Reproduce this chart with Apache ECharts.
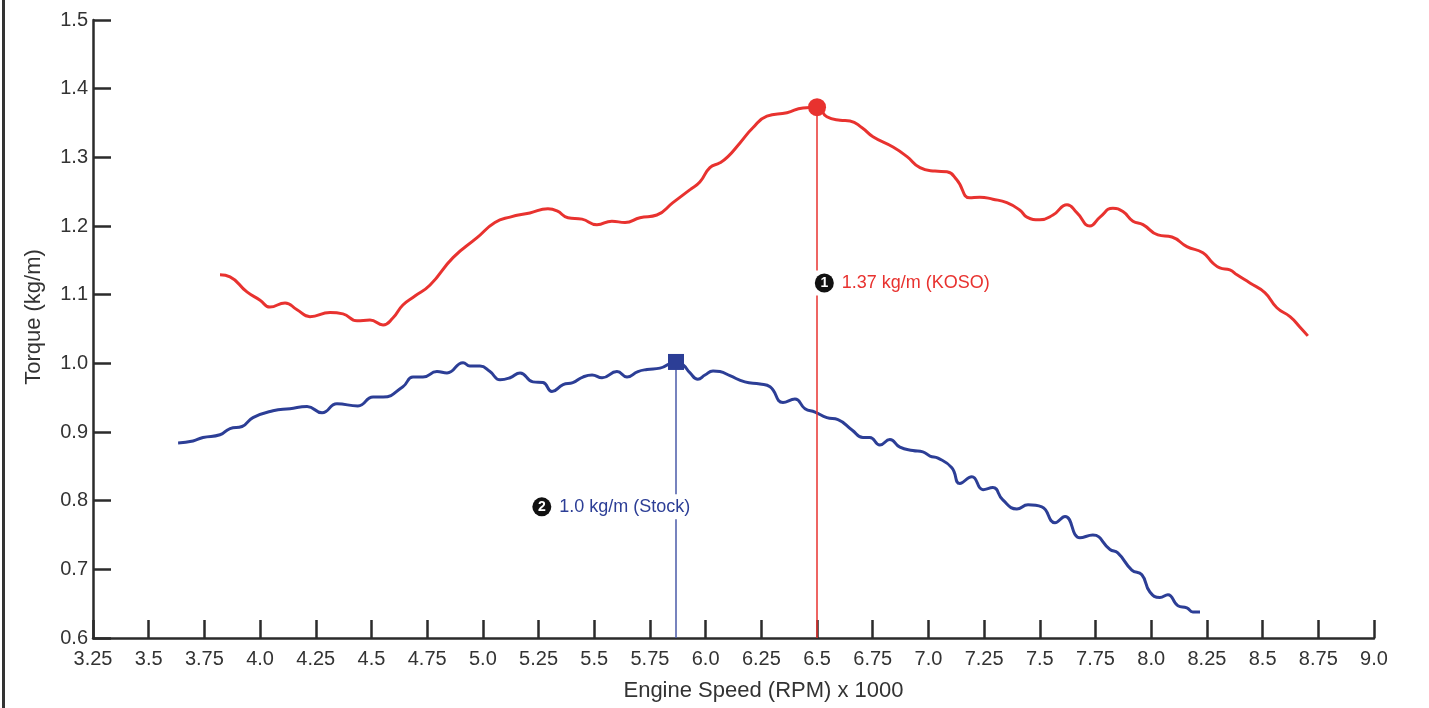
<!DOCTYPE html>
<html>
<head>
<meta charset="utf-8">
<script src="https://cdn.jsdelivr.net/npm/echarts@6/dist/echarts.min.js"></script>
<style>
html,body{margin:0;padding:0;background:#fff;}
#chart{width:1429px;height:708px;}
</style>
</head>
<body>
<div id="chart"></div>
<script>
// KOSO curve: [rpm x1000, torque kg/m]
const kosoRpm = [3.820,3.865,3.941,4.000,4.044,4.112,4.166,4.224,4.314,4.372,4.435,4.493,4.552,4.596,4.641,4.695,4.763,4.866,4.974,5.054,5.122,5.211,5.292,5.333,5.382,5.445,5.512,5.579,5.638,5.705,5.781,5.853,5.930,5.974,6.019,6.064,6.100,6.154,6.212,6.275,6.365,6.437,6.500,6.544,6.603,6.648,6.702,6.751,6.841,6.904,6.962,7.029,7.083,7.128,7.186,7.231,7.289,7.352,7.411,7.442,7.500,7.559,7.622,7.667,7.725,7.770,7.828,7.873,7.918,7.963,8.030,8.093,8.160,8.232,8.277,8.308,8.353,8.385,8.443,8.510,8.564,8.623,8.667,8.703];
const kosoTorque = [1.129,1.126,1.104,1.092,1.082,1.088,1.078,1.068,1.074,1.072,1.062,1.063,1.056,1.066,1.085,1.098,1.114,1.154,1.183,1.205,1.213,1.219,1.225,1.222,1.212,1.210,1.202,1.207,1.205,1.212,1.216,1.234,1.253,1.264,1.285,1.292,1.301,1.321,1.343,1.360,1.365,1.372,1.373,1.359,1.354,1.353,1.343,1.330,1.315,1.301,1.285,1.280,1.279,1.267,1.241,1.242,1.239,1.234,1.223,1.213,1.209,1.216,1.231,1.219,1.200,1.213,1.226,1.221,1.207,1.202,1.187,1.184,1.170,1.161,1.146,1.139,1.136,1.129,1.117,1.103,1.081,1.068,1.053,1.040];

// Stock curve
const stockRpm = [3.632,3.699,3.744,3.820,3.865,3.919,3.968,4.058,4.134,4.211,4.278,4.345,4.439,4.507,4.552,4.641,4.686,4.731,4.794,4.839,4.911,4.942,4.987,5.032,5.077,5.122,5.167,5.225,5.270,5.310,5.360,5.404,5.449,5.490,5.535,5.602,5.647,5.696,5.737,5.795,5.867,5.898,5.930,5.965,5.997,6.033,6.064,6.109,6.176,6.244,6.289,6.347,6.401,6.446,6.491,6.544,6.594,6.657,6.706,6.737,6.782,6.827,6.872,6.930,6.975,7.007,7.043,7.105,7.141,7.195,7.245,7.289,7.334,7.397,7.447,7.509,7.568,7.613,7.680,7.738,7.815,7.850,7.913,7.958,7.994,8.039,8.075,8.120,8.160,8.187,8.219];
const stockTorque = [0.884,0.887,0.892,0.896,0.905,0.908,0.921,0.931,0.934,0.937,0.928,0.941,0.938,0.951,0.951,0.966,0.980,0.980,0.988,0.986,1.001,0.996,0.996,0.988,0.976,0.979,0.986,0.973,0.972,0.959,0.969,0.972,0.980,0.983,0.979,0.988,0.980,0.988,0.991,0.993,1.002,0.998,0.986,0.977,0.983,0.989,0.988,0.982,0.973,0.970,0.966,0.943,0.948,0.934,0.929,0.921,0.918,0.903,0.892,0.892,0.881,0.889,0.878,0.873,0.871,0.865,0.862,0.848,0.825,0.835,0.816,0.819,0.801,0.788,0.794,0.791,0.768,0.777,0.746,0.750,0.729,0.724,0.699,0.692,0.667,0.659,0.663,0.647,0.644,0.638,0.638];

// Peaks and annotation texts
const kosoPeak = [6.5, 1.373];
const stockPeak = [5.867, 1.002];
const kosoLabel = "1.37 kg/m (KOSO)";
const stockLabel = "1.0 kg/m (Stock)";
const kosoLabelPos = [6.49, 1.117];
const stockLabelPos = [5.222, 0.791];

// Axes
const xMin = 3.25, xMax = 9.0, xStep = 0.25;
const yMin = 0.6, yMax = 1.5, yStep = 0.1;
const xName = "Engine Speed (RPM) x 1000";
const yName = "Torque (kg/m)";

const RED = '#e8322f';
const BLUE = '#2c3e96';
const AX = '#2b2b2b';
const FONT = '"Liberation Sans", Arial, Helvetica, sans-serif';

const zip = (a, b) => a.map((v, i) => [v, b[i]]);

const chart = echarts.init(document.getElementById('chart'), null, {renderer: 'canvas'});

function annot(num, text, color) {
  return {
    formatter: '{n|' + num + '}{t|' + text + '}',
    rich: {
      n: {backgroundColor: '#111', color: '#fff', width: 19, height: 19, lineHeight: 19,
          borderRadius: 10, align: 'center', fontSize: 14, fontWeight: 'bold', fontFamily: FONT},
      t: {color: color, fontSize: 18, fontFamily: FONT, padding: [0, 0, 0, 8]}
    }
  };
}

chart.setOption({
  animation: false,
  backgroundColor: '#fff',
  grid: {left: 93, right: 55, top: 20, bottom: 70, containLabel: false},
  xAxis: {
    type: 'value', min: xMin, max: xMax, interval: xStep,
    name: xName, nameLocation: 'middle', nameGap: 42,
    nameTextStyle: {color: '#333', fontSize: 22, fontFamily: FONT, padding: [0, 0, 0, 60]},
    axisLine: {show: true, onZero: false, lineStyle: {color: AX, width: 2.5}},
    axisTick: {show: true, inside: true, length: 18, lineStyle: {color: AX, width: 2.5}},
    axisLabel: {color: '#333', fontSize: 20, fontFamily: FONT, margin: 11,
      formatter: v => (Math.abs(v - Math.round(v)) < 1e-9 ? v.toFixed(1) : String(+v.toFixed(2)))},
    splitLine: {show: false}
  },
  yAxis: {
    type: 'value', min: yMin, max: yMax, interval: yStep,
    name: yName, nameLocation: 'middle', nameGap: 48,
    nameTextStyle: {color: '#333', fontSize: 22, fontFamily: FONT, padding: [0, 0, 0, 24]},
    axisLine: {show: true, onZero: false, lineStyle: {color: AX, width: 2.5}},
    axisTick: {show: true, inside: true, length: 18, lineStyle: {color: AX, width: 2.5}},
    axisLabel: {color: '#333', fontSize: 20, fontFamily: FONT, margin: 5,
      formatter: v => v.toFixed(1)},
    splitLine: {show: false}
  },
  graphic: [
    {type: 'rect', shape: {x: 2, y: 0, width: 3, height: 708}, style: {fill: '#333'}}
  ],
  series: [
    {
      name: 'KOSO', type: 'line', data: zip(kosoRpm, kosoTorque), smooth: 0.5,
      showSymbol: false, lineStyle: {color: RED, width: 3}, z: 3
    },
    {
      name: 'Stock', type: 'line', data: zip(stockRpm, stockTorque), smooth: 0.5,
      showSymbol: false, lineStyle: {color: BLUE, width: 3}, z: 3
    },
    {
      name: 'KOSO peak', type: 'scatter', data: [kosoPeak], symbol: 'circle', symbolSize: 18,
      itemStyle: {color: RED, opacity: 1}, z: 5,
      markLine: {silent: true, symbol: ['none', 'none'], label: {show: false},
        lineStyle: {color: RED, width: 1.5, type: 'solid', opacity: 1},
        data: [[{coord: kosoPeak}, {coord: [kosoPeak[0], yMin]}]]}
    },
    {
      name: 'Stock peak', type: 'scatter', data: [stockPeak], symbol: 'rect', symbolSize: 16,
      itemStyle: {color: BLUE, opacity: 1}, z: 5,
      markLine: {silent: true, symbol: ['none', 'none'], label: {show: false},
        lineStyle: {color: '#4a5aa8', width: 1.5, type: 'solid', opacity: 1},
        data: [[{coord: stockPeak}, {coord: [stockPeak[0], yMin]}]]}
    },
    {
      name: 'labels', type: 'scatter', symbolSize: 0, z: 10, silent: true,
      itemStyle: {opacity: 1},
      data: [
        {value: kosoLabelPos, label: Object.assign({show: true, position: 'right', distance: 0,
          backgroundColor: '#fff', padding: [3, 0, 3, 0]}, annot('1', kosoLabel, RED))},
        {value: stockLabelPos, label: Object.assign({show: true, position: 'right', distance: 0,
          backgroundColor: '#fff', padding: [3, 0, 3, 0]}, annot('2', stockLabel, BLUE))}
      ]
    }
  ]
});
</script>
</body>
</html>
